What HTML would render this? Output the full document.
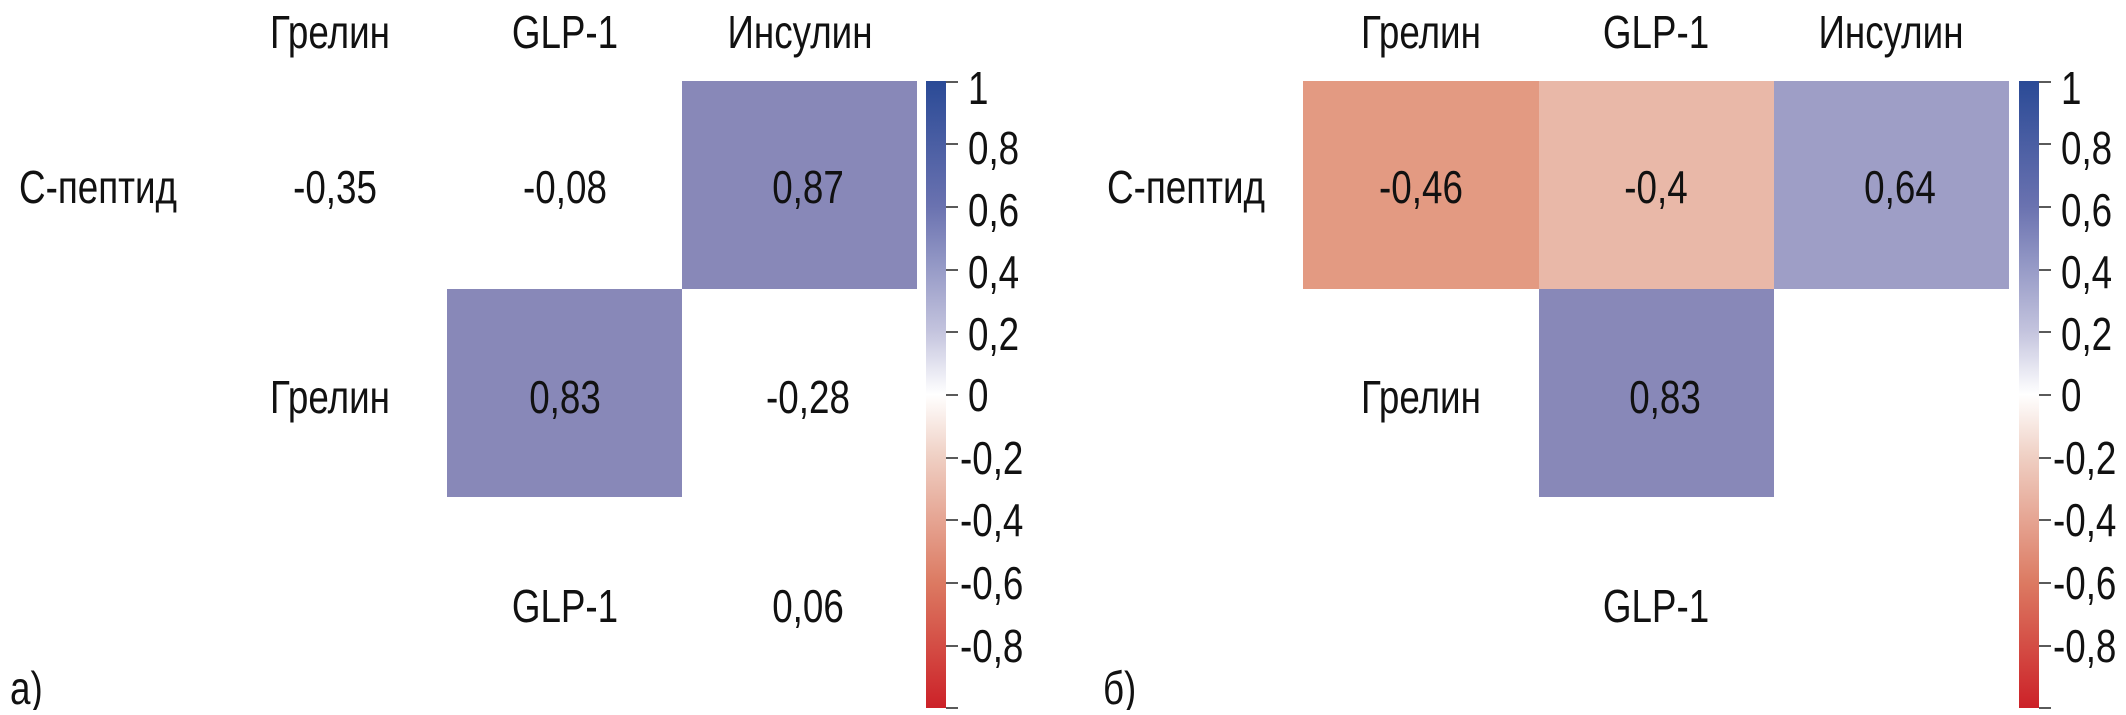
<!DOCTYPE html>
<html><head><meta charset="utf-8"><style>
body{margin:0;background:#fff;}
svg text{font-family:"Liberation Sans Narrow","Liberation Sans",sans-serif;font-size:46px;fill:#111;transform-box:fill-box;transform-origin:center;transform:scaleX(.8);}
svg text.l{transform-origin:left center;}
</style></head><body>
<svg width="2126" height="710" xmlns="http://www.w3.org/2000/svg">
<defs>
<linearGradient id="cb" x1="0" y1="0" x2="0" y2="1">
<stop offset="0" stop-color="#2a4a96"/>
<stop offset="0.2" stop-color="#6a72b0"/>
<stop offset="0.4" stop-color="#c4c4de"/>
<stop offset="0.5" stop-color="#ffffff"/>
<stop offset="0.6" stop-color="#efcfc3"/>
<stop offset="0.8" stop-color="#dc7a62"/>
<stop offset="1" stop-color="#cc2128"/>
</linearGradient>
</defs>
<g>
<rect x="682" y="81" width="235" height="208" fill="#8888b8"/>
<rect x="447" y="289" width="235" height="208" fill="#8888b8"/>
<g text-anchor="middle" dominant-baseline="central">
<text x="330" y="32">Грелин</text>
<text x="565" y="32">GLP-1</text>
<text x="800" y="32">Инсулин</text>
<text x="98" y="187">С-пептид</text>
<text x="335" y="187">-0,35</text>
<text x="565" y="187">-0,08</text>
<text x="808" y="187">0,87</text>
<text x="330" y="397">Грелин</text>
<text x="565" y="397">0,83</text>
<text x="808" y="397">-0,28</text>
<text x="565" y="606">GLP-1</text>
<text x="808" y="606">0,06</text>
</g>
<text class="l" x="10" y="704">а)</text>
<rect x="926" y="81" width="20" height="627" fill="url(#cb)"/>
</g>
<g>
<rect x="1303" y="81" width="236" height="208" fill="#e39a82"/>
<rect x="1539" y="81" width="235" height="208" fill="#e9b8a8"/>
<rect x="1774" y="81" width="235" height="208" fill="#9e9ec6"/>
<rect x="1539" y="289" width="235" height="208" fill="#8888b8"/>
<g text-anchor="middle" dominant-baseline="central">
<text x="1421" y="32">Грелин</text>
<text x="1656" y="32">GLP-1</text>
<text x="1891" y="32">Инсулин</text>
<text x="1186" y="187">С-пептид</text>
<text x="1421" y="187">-0,46</text>
<text x="1656" y="187">-0,4</text>
<text x="1900" y="187">0,64</text>
<text x="1421" y="397">Грелин</text>
<text x="1665" y="397">0,83</text>
<text x="1656" y="606">GLP-1</text>
</g>
<text class="l" x="1103" y="704">б)</text>
<rect x="2019" y="81" width="20" height="627" fill="url(#cb)"/>
</g>
<g stroke="#222" stroke-width="1.5">
<line x1="946" y1="82" x2="958" y2="82"/><line x1="946" y1="144" x2="958" y2="144"/><line x1="946" y1="207" x2="958" y2="207"/><line x1="946" y1="270" x2="958" y2="270"/><line x1="946" y1="332" x2="958" y2="332"/><line x1="946" y1="395" x2="958" y2="395"/><line x1="946" y1="458" x2="958" y2="458"/><line x1="946" y1="520" x2="958" y2="520"/><line x1="946" y1="583" x2="958" y2="583"/><line x1="946" y1="646" x2="958" y2="646"/><line x1="946" y1="708" x2="958" y2="708"/>
<line x1="2039" y1="82" x2="2051" y2="82"/><line x1="2039" y1="144" x2="2051" y2="144"/><line x1="2039" y1="207" x2="2051" y2="207"/><line x1="2039" y1="270" x2="2051" y2="270"/><line x1="2039" y1="332" x2="2051" y2="332"/><line x1="2039" y1="395" x2="2051" y2="395"/><line x1="2039" y1="458" x2="2051" y2="458"/><line x1="2039" y1="520" x2="2051" y2="520"/><line x1="2039" y1="583" x2="2051" y2="583"/><line x1="2039" y1="646" x2="2051" y2="646"/><line x1="2039" y1="708" x2="2051" y2="708"/>
</g>
<g dominant-baseline="central">
<text class="l" x="968" y="88">1</text><text class="l" x="968" y="148">0,8</text><text class="l" x="968" y="210">0,6</text><text class="l" x="968" y="272">0,4</text><text class="l" x="968" y="334">0,2</text><text class="l" x="968" y="395">0</text>
<text class="l" x="960" y="458">-0,2</text><text class="l" x="960" y="520">-0,4</text><text class="l" x="960" y="583">-0,6</text><text class="l" x="960" y="646">-0,8</text>
<text class="l" x="2061" y="88">1</text><text class="l" x="2061" y="148">0,8</text><text class="l" x="2061" y="210">0,6</text><text class="l" x="2061" y="272">0,4</text><text class="l" x="2061" y="334">0,2</text><text class="l" x="2061" y="395">0</text>
<text class="l" x="2053" y="458">-0,2</text><text class="l" x="2053" y="520">-0,4</text><text class="l" x="2053" y="583">-0,6</text><text class="l" x="2053" y="646">-0,8</text>
</g>
</svg>
</body></html>
